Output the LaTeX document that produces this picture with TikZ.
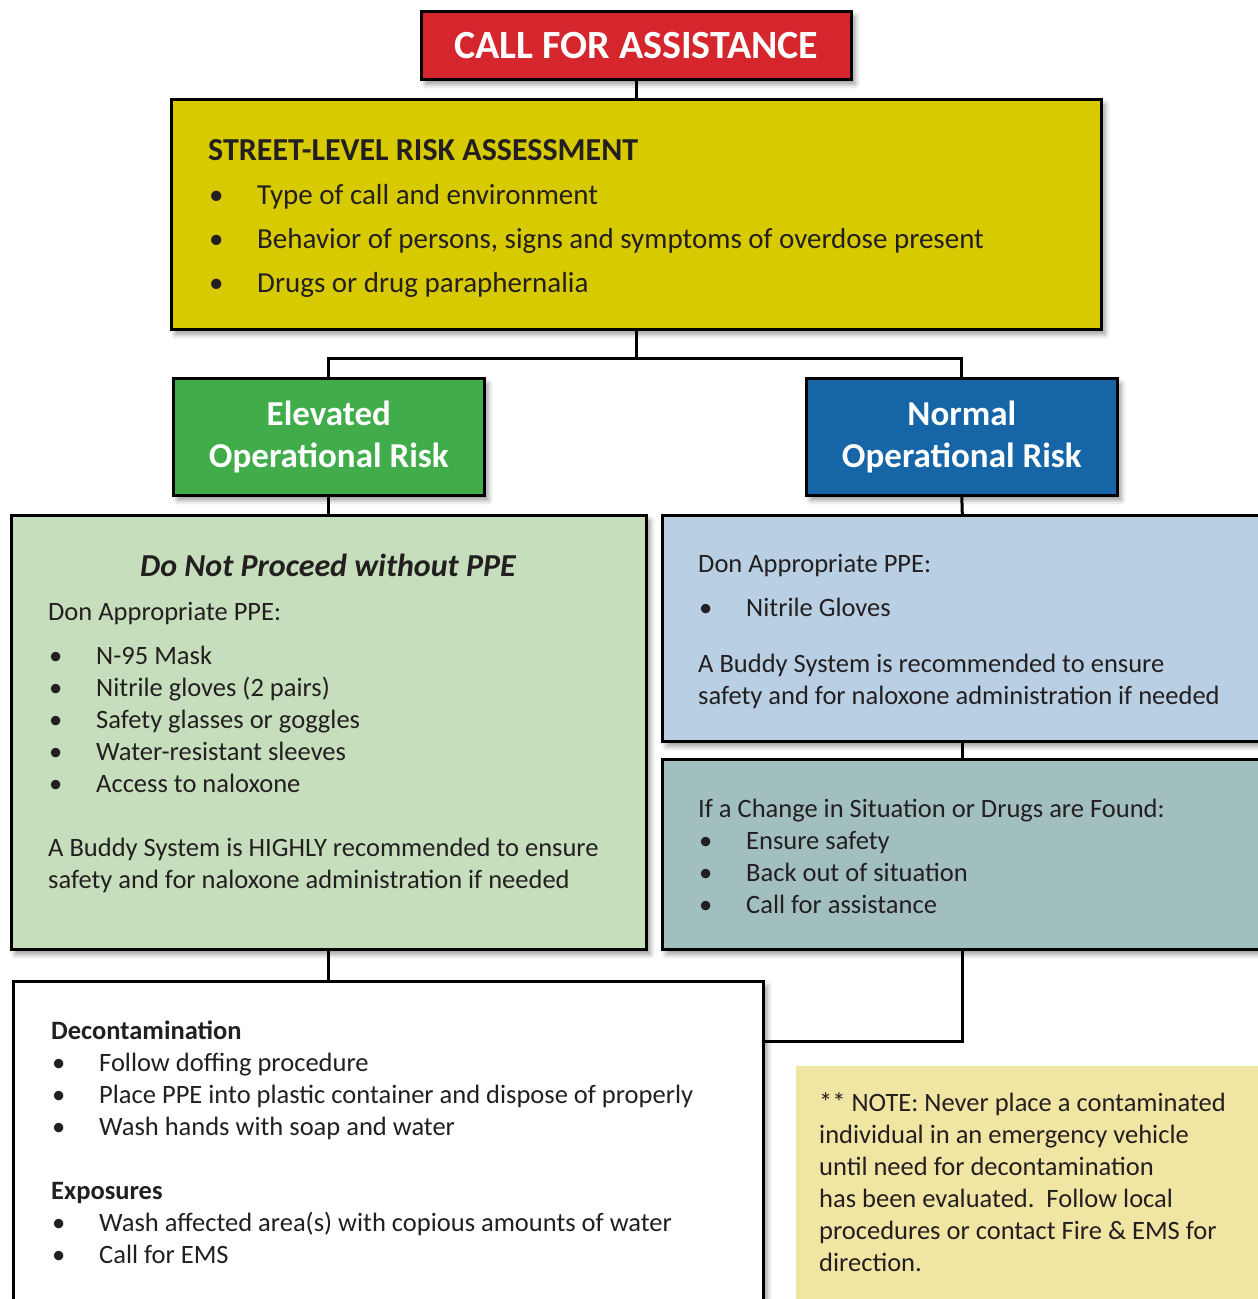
\documentclass[tikz,border=0pt]{standalone}
\usepackage{fontspec}
\setmainfont{Carlito}
\usetikzlibrary{shadows.blur}
\definecolor{ink}{HTML}{231F20}
\definecolor{callred}{HTML}{D5252D}
\definecolor{assessyellow}{HTML}{D8CA00}
\definecolor{elevgreen}{HTML}{40AD4A}
\definecolor{normblue}{HTML}{1565A7}
\definecolor{ppegreen}{HTML}{C7DEBD}
\definecolor{ppeblue}{HTML}{B9CFE3}
\definecolor{changeteal}{HTML}{A2BFC0}
\definecolor{noteyellow}{HTML}{F0E5A3}
\begin{document}
\begin{tikzpicture}[x=1pt,y=-1pt,
	box/.style={draw=black,line width=2.6pt,anchor=north west,inner sep=0pt,
		blur shadow={shadow xshift=4pt,shadow yshift=-5pt,shadow blur radius=5pt,shadow opacity=40}},
	link/.style={line width=3pt},
	txt/.style={anchor=base west,inner sep=0pt,text=ink,font=\fontsize{26.5}{32}\selectfont},
	hd/.style={txt,font=\fontsize{26.5}{32}\selectfont\bfseries},
	ass/.style={txt,font=\fontsize{29}{32}\selectfont},
	big/.style={text=white,align=center,font=\fontsize{35}{42}\selectfont\bfseries}]
	\clip (0,0) rectangle (1258,1299);
	
	\node[box,fill=callred,minimum width=430pt,minimum height=68pt,text=white,
		font=\fontsize{40}{42}\selectfont\bfseries] (call) at (420,10) {CALL FOR ASSISTANCE};
	\node[box,fill=assessyellow,minimum width=930pt,minimum height=230pt] (assess) at (170,98) {};
	\node[box,fill=elevgreen,minimum width=311pt,minimum height=117pt,big] (elev) at (172,377) {Elevated\\Operational Risk};
	\node[box,fill=normblue,minimum width=311pt,minimum height=117pt,big] (norm) at (805,377) {Normal\\Operational Risk};
	\node[box,fill=ppegreen,minimum width=635pt,minimum height=434pt] (ppeE) at (10,514) {};
	\node[box,fill=ppeblue,minimum width=600pt,minimum height=226pt] (ppeN) at (661,514) {};
	\node[box,fill=changeteal,minimum width=600pt,minimum height=190pt] (change) at (661,758) {};
	\node[box,fill=white,minimum width=750pt,minimum height=340pt] (decon) at (12,980) {};
	\node[box,draw=none,fill=noteyellow,minimum width=470pt,minimum height=250pt] (note) at (795,1065) {};
	
	% connectors
	\draw[link] (call.south)--(assess.north);
	\draw[link] (assess.south)--++(0,28) coordinate (split) -| (elev.north);
	\draw[link] (split) -| (norm.north);
	\draw[link] (elev.south)--(ppeE.north);
	\draw[link] (norm.south)--(ppeN.north);
	\draw[link] (ppeN.south)--(change.north);
	\draw[link] (ppeE.south)--(ppeE.south |- decon.north);
	\draw[link] (change.south) |- ([yshift=-61pt]decon.north east);
	
	% street-level risk assessment
	\node[hd,font=\fontsize{32}{34}\selectfont\bfseries] (asshd) at (208,160) {STREET-LEVEL RISK ASSESSMENT};
	\node[ass] (assb1) at (209,204) {\textbullet};
	\node[ass] (ass1) at (257,204) {Type of call and environment};
	\node[ass] (assb2) at (209,248) {\textbullet};
	\node[ass] (ass2) at (257,248) {Behavior of persons, signs and symptoms of overdose present};
	\node[ass] (assb3) at (209,292) {\textbullet};
	\node[ass] (ass3) at (257,292) {Drugs or drug paraphernalia};
	
	% elevated risk
	\node[txt,anchor=base,font=\fontsize{32}{34}\selectfont\bfseries\itshape] (elevhd) at (328,576) {Do Not Proceed without PPE};
	\node[txt] (elev0) at (48,620) {Don Appropriate PPE:};
	\node[txt] (elevb1) at (49,664) {\textbullet};
	\node[txt] (elev1) at (96,664) {N-95 Mask};
	\node[txt] (elevb2) at (49,696) {\textbullet};
	\node[txt] (elev2) at (96,696) {Nitrile gloves (2 pairs)};
	\node[txt] (elevb3) at (49,728) {\textbullet};
	\node[txt] (elev3) at (96,728) {Safety glasses or goggles};
	\node[txt] (elevb4) at (49,760) {\textbullet};
	\node[txt] (elev4) at (96,760) {Water-resistant sleeves};
	\node[txt] (elevb5) at (49,792) {\textbullet};
	\node[txt] (elev5) at (96,792) {Access to naloxone};
	\node[txt] (elev6) at (48,856) {A Buddy System is HIGHLY recommended to ensure};
	\node[txt] (elev7) at (48,888) {safety and for naloxone administration if needed};
	
	% normal risk
	\node[txt] (norm0) at (698,572) {Don Appropriate PPE:};
	\node[txt] (normb1) at (699,616) {\textbullet};
	\node[txt] (norm1) at (746,616) {Nitrile Gloves};
	\node[txt] (norm2) at (698,672) {A Buddy System is recommended to ensure};
	\node[txt] (norm3) at (698,704) {safety and for naloxone administration if needed};
	
	\node[txt] (chg0) at (698,817) {If a Change in Situation or Drugs are Found:};
	\node[txt] (chgb1) at (699,849) {\textbullet};
	\node[txt] (chg1) at (746,849) {Ensure safety};
	\node[txt] (chgb2) at (699,881) {\textbullet};
	\node[txt] (chg2) at (746,881) {Back out of situation};
	\node[txt] (chgb3) at (699,913) {\textbullet};
	\node[txt] (chg3) at (746,913) {Call for assistance};
	
	% decontamination
	\node[hd] (dechd) at (51,1039) {Decontamination};
	\node[txt] (decb1) at (52,1071) {\textbullet};
	\node[txt] (dec1) at (99,1071) {Follow doffing procedure};
	\node[txt] (decb2) at (52,1103) {\textbullet};
	\node[txt] (dec2) at (99,1103) {Place PPE into plastic container and dispose of properly};
	\node[txt] (decb3) at (52,1135) {\textbullet};
	\node[txt] (dec3) at (99,1135) {Wash hands with soap and water};
	\node[hd] (exphd) at (51,1199) {Exposures};
	\node[txt] (expb1) at (52,1231) {\textbullet};
	\node[txt] (exp1) at (99,1231) {Wash affected area(s) with copious amounts of water};
	\node[txt] (expb2) at (52,1263) {\textbullet};
	\node[txt] (exp2) at (99,1263) {Call for EMS};
	
	% note
	\node[txt] (note1) at (819,1111) {** NOTE: Never place a contaminated};
	\node[txt] (note2) at (819,1143) {individual in an emergency vehicle};
	\node[txt] (note3) at (819,1175) {until need for decontamination};
	\node[txt] (note4) at (819,1207) {has been evaluated.\ \ Follow local};
	\node[txt] (note5) at (819,1239) {procedures or contact Fire \& EMS for};
	\node[txt] (note6) at (819,1271) {direction.};
	
\end{tikzpicture}
\end{document}
